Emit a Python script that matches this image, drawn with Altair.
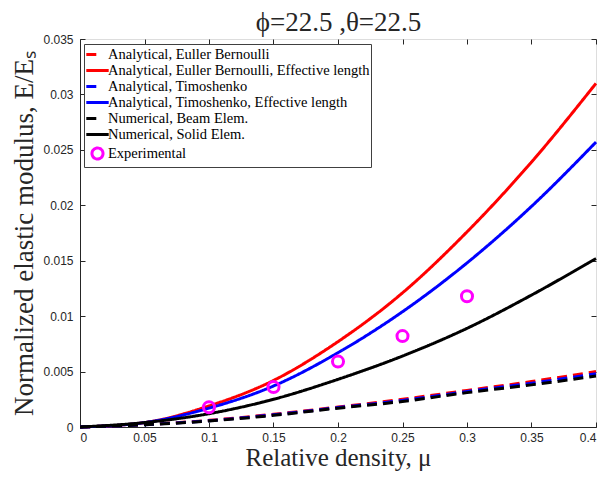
import altair as alt
import pandas as pd

# ---- data ----
mu = [0.0, 0.05, 0.1, 0.15, 0.2, 0.25, 0.3, 0.35, 0.4]
eb = [0.0, 0.00022, 0.0006, 0.00115, 0.0018, 0.0025, 0.0033, 0.0041, 0.0050]
eb_eff = [0.0, 0.0004, 0.0019, 0.0042, 0.0077, 0.0121, 0.0176, 0.0239, 0.0310]
tim = [0.0, 0.00021, 0.00057, 0.0011, 0.00175, 0.0024, 0.0032, 0.00395, 0.0048]
tim_eff = [0.0, 0.0004, 0.0017, 0.0037, 0.0067, 0.0104, 0.0148, 0.0199, 0.0257]
beam = [0.0, 0.0002, 0.00054, 0.00105, 0.0017, 0.0023, 0.0031, 0.0038, 0.0046]
solid = [0.0, 0.0004, 0.0012, 0.0025, 0.0043, 0.0064, 0.0089, 0.0119, 0.0152]
exp_mu = [0.1, 0.15, 0.2, 0.25, 0.3]
exp_E = [0.00178, 0.0036, 0.0059, 0.0082, 0.0118]

series_names = [
    "Analytical, Euller Bernoulli",
    "Analytical, Euller Bernoulli, Effective length",
    "Analytical, Timoshenko",
    "Analytical, Timoshenko, Effective length",
    "Numerical, Beam Elem.",
    "Numerical, Solid Elem.",
    "Experimental",
]
colors = ["#ff0000", "#ff0000", "#0000ff", "#0000ff", "#000000", "#000000", "#ff00ff"]
dashes = [[10, 6], [1, 0], [10, 6], [1, 0], [10, 6], [1, 0], [1, 0]]
SOLID = "M-1.4,0H1.4"
SHORT = "M-1.4,0H0.1"
RING = "M0.69,0A0.69,0.69,0,1,1,-0.69,0A0.69,0.69,0,1,1,0.69,0Z"
shapes = [SHORT, SOLID, SHORT, SOLID, SHORT, SOLID, RING]

title_text = "ϕ=22.5 ,θ=22.5"
x_title = "Relative density, μ"
y_title = "Normalized elastic modulus, E/Eₛ"
x_ticks = [0, 0.05, 0.1, 0.15, 0.2, 0.25, 0.3, 0.35, 0.4]
y_ticks = [0, 0.005, 0.01, 0.015, 0.02, 0.025, 0.03, 0.035]

curves = [eb, eb_eff, tim, tim_eff, beam, solid]
rows = []
for name, vals in zip(series_names[:6], curves):
    for m, v in zip(mu, vals):
        rows.append({"mu": m, "E": v, "series": name})
lines_df = pd.DataFrame(rows)
exp_df = pd.DataFrame({"mu": exp_mu, "E": exp_E, "series": ["Experimental"] * len(exp_mu)})

xscale = alt.Scale(domain=[0, 0.4], nice=False, zero=False)
yscale = alt.Scale(domain=[0, 0.035], nice=False, zero=False)

legend = alt.Legend(
    title=None, orient="none", legendX=4, legendY=5,
    labelFont="Liberation Serif", labelFontSize=14.5, labelColor="#000000", labelLimit=400,
    symbolSize=256, symbolStrokeWidth=3, symbolOffset=3, strokeColor="#404040", fillColor="#ffffff",
    padding=1, rowPadding=0, labelOffset=1, cornerRadius=0,
)
color_enc = alt.Color("series:N", scale=alt.Scale(domain=series_names, range=colors), legend=legend)

lab_axis_common = dict(
    labelFont="Liberation Sans", labelFontSize=12, labelColor="#262626",
    ticks=False, domainColor="#262626", domainWidth=1, grid=False, format="~g",
    titleFont="Liberation Serif", titleFontWeight="normal", titleColor="#262626",
    titleBaseline="alphabetic",
)

lines = alt.Chart(lines_df).mark_line(strokeWidth=3, interpolate="monotone").encode(
    x=alt.X("mu:Q", scale=xscale, axis=alt.Axis(
        orient="bottom", values=x_ticks, labelPadding=5, title=x_title,
        titleFontSize=25, titleY=38.5, **lab_axis_common)),
    y=alt.Y("E:Q", scale=yscale, axis=alt.Axis(
        orient="left", values=y_ticks, labelPadding=7, title=y_title,
        titleFontSize=27, titleX=-48, **lab_axis_common)),
    color=color_enc,
    strokeDash=alt.StrokeDash("series:N", scale=alt.Scale(domain=series_names, range=dashes), legend=legend),
)

tick_axis = dict(labels=False, domain=False, grid=False, tickSize=5, tickColor="#262626", tickWidth=1, offset=-5)

points = alt.Chart(exp_df).mark_point(filled=False, strokeWidth=3, size=256, opacity=1).encode(
    x=alt.X("mu:Q", scale=xscale, title=None, axis=alt.Axis(orient="bottom", values=x_ticks, **tick_axis)),
    y=alt.Y("E:Q", scale=yscale, title=None, axis=alt.Axis(orient="left", values=y_ticks, **tick_axis)),
    color=color_enc,
    shape=alt.Shape("series:N", scale=alt.Scale(domain=series_names, range=shapes), legend=legend),
)

# top/right inward ticks; the top axis also carries the figure title
ghost = alt.Chart(exp_df).mark_point(opacity=0).encode(
    x=alt.X("mu:Q", scale=xscale, axis=alt.Axis(
        orient="top", values=x_ticks, title=title_text, titleFont="Liberation Serif", titleFontSize=27,
        titleFontWeight="normal", titleColor="#262626", titleBaseline="alphabetic", titleY=-13.5,
        **tick_axis)),
    y=alt.Y("E:Q", scale=yscale, title=None, axis=alt.Axis(orient="right", values=y_ticks, **tick_axis)),
)

chart = alt.layer(lines, points, ghost).resolve_axis(x="independent", y="independent").properties(
    width=516, height=388,
    autosize=alt.AutoSizeParams(type="none"),
    padding={"left": 72, "top": 31, "right": 1, "bottom": 44},
).configure_view(stroke="#a0a0a0", strokeWidth=1).configure(background="#ffffff")

chart.save("out.html", embed_options={"renderer": "svg", "actions": False})
